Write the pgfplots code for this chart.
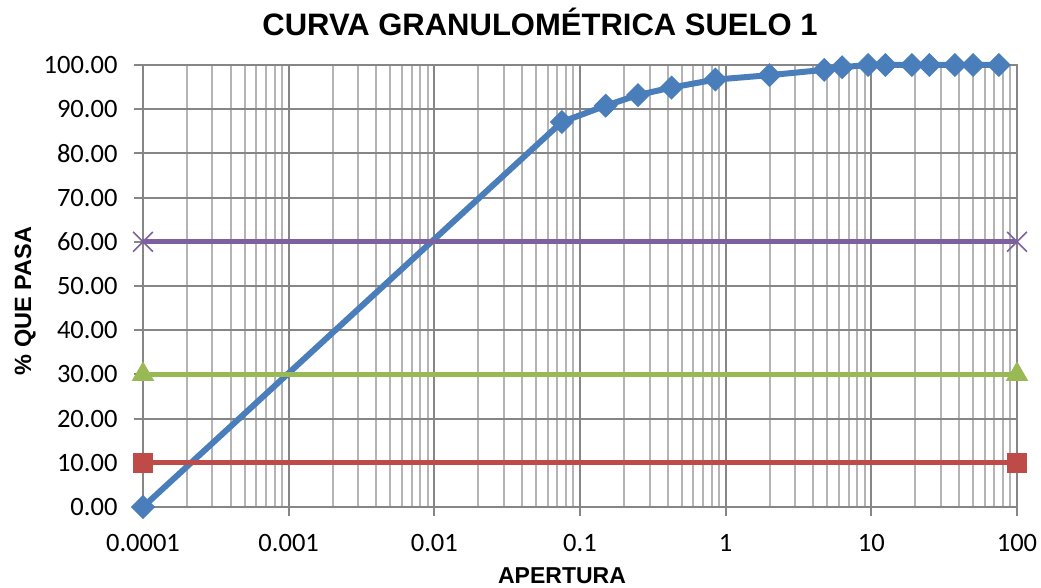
\documentclass[border=0pt]{standalone}
\usepackage{pgfplots}
\pgfplotsset{compat=1.18}
\usepackage{fontspec}
\setmainfont{Carlito}
\newfontfamily\arialb{Liberation Sans}[BoldFont={* Bold}]
\definecolor{cblue}{HTML}{4A7EBB}
\definecolor{cred}{HTML}{BE4B48}
\definecolor{cgreen}{HTML}{98B954}
\definecolor{cpurple}{HTML}{7D60A0}
\definecolor{gmaj}{HTML}{868686}
\definecolor{gmin}{HTML}{B4B4B4}
\begin{document}
\begin{tikzpicture}[x=1pt,y=1pt]
\useasboundingbox (0,0) rectangle (1041,587);
\begin{axis}[
 at={(143pt,80pt)}, anchor=south west,
 scale only axis, width=874pt, height=442pt,
 xmode=log, log basis x=10,
 xmin=0.0001, xmax=100, ymin=0, ymax=100,
 xtick={0.0001,0.001,0.01,0.1,1,10,100},
 xticklabels={0.0001,0.001,0.01,0.1,1,10,100},
 minor xtick={2e-4,3e-4,4e-4,5e-4,6e-4,7e-4,8e-4,9e-4,
  2e-3,3e-3,4e-3,5e-3,6e-3,7e-3,8e-3,9e-3,
  0.02,0.03,0.04,0.05,0.06,0.07,0.08,0.09,
  0.2,0.3,0.4,0.5,0.6,0.7,0.8,0.9,
  2,3,4,5,6,7,8,9,
  20,30,40,50,60,70,80,90},
 ytick={0,10,...,100},
 yticklabel={\pgfmathprintnumber[assume math mode=true,fixed,fixed zerofill,precision=2]{\tick}},
 xmajorgrids, xminorgrids, ymajorgrids,
 major grid style={gmaj, line width=2pt},
 minor grid style={gmin, line width=2pt},
 axis line style={gmaj, line width=2pt},
 tick style={gmaj, line width=2pt},
 tick align=outside, major tick length=9pt, minor tick length=0pt,
 tick pos=left,
 tick label style={font=\fontsize{26.5}{30}\selectfont, black},
 yticklabel style={xshift=-13pt},
 xticklabel style={anchor=base, yshift=-35pt},
 clip=false,
]
\addplot[cblue, line width=6pt, mark=square*, mark size=8pt, mark options={rotate=45, line width=1pt, fill=cblue}] table {
x y
0.0001 0
0.075 87.1
0.15 90.8
0.25 93.2
0.425 94.9
0.85 96.7
2 97.7
4.75 98.9
6.3 99.5
9.5 100
12.5 100
19 100
25 100
37.5 100
50 100
75 100
};
\addplot[cred, line width=5pt, mark=square*, mark size=9.5pt, mark options={line width=1pt, fill=cred}] coordinates {(0.0001,10) (100,10)};
\addplot[cgreen, line width=5pt, mark=triangle*, mark size=12pt, mark options={line width=1pt, fill=cgreen}] coordinates {(0.0001,30) (100,30)};
\addplot[cpurple, line width=5pt, mark=x, mark size=14pt, mark options={line width=1.5pt}] coordinates {(0.0001,60) (100,60)};
\end{axis}
\node[font=\arialb\bfseries\fontsize{31}{36}\selectfont, anchor=base] at (540,551) {CURVA GRANULOMÉTRICA SUELO 1};
\node[font=\arialb\bfseries\fontsize{23}{28}\selectfont, anchor=base] at (562,4) {APERTURA};
\node[font=\arialb\bfseries\fontsize{23.5}{28}\selectfont, rotate=90, anchor=base] at (31,286) {\% QUE PASA};
\end{tikzpicture}
\end{document}
